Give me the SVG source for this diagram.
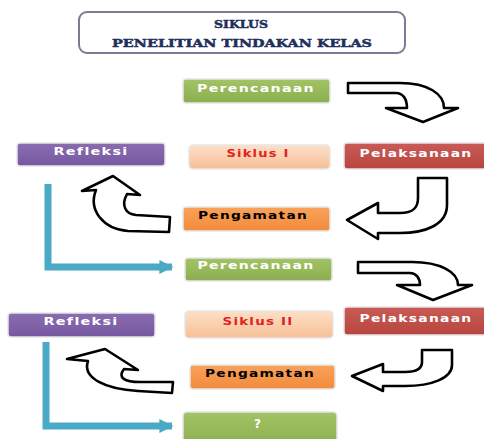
<svg xmlns="http://www.w3.org/2000/svg" width="484" height="439" viewBox="0 0 484 439">
<defs>
<linearGradient id="gGreen" x1="0" y1="0" x2="0" y2="1"><stop offset="0" stop-color="#a3c466"/><stop offset="1" stop-color="#8aae4f"/></linearGradient>
<linearGradient id="gPurple" x1="0" y1="0" x2="0" y2="1"><stop offset="0" stop-color="#8a6db0"/><stop offset="1" stop-color="#7558a0"/></linearGradient>
<linearGradient id="gPeach" x1="0" y1="0" x2="0" y2="1"><stop offset="0" stop-color="#fde0c8"/><stop offset="1" stop-color="#f6bf96"/></linearGradient>
<linearGradient id="gRed" x1="0" y1="0" x2="0" y2="1"><stop offset="0" stop-color="#c95a56"/><stop offset="1" stop-color="#b8463f"/></linearGradient>
<linearGradient id="gOrange" x1="0" y1="0" x2="0" y2="1"><stop offset="0" stop-color="#f9a25a"/><stop offset="1" stop-color="#f28b3c"/></linearGradient>
<marker id="blueArrow" viewBox="0 0 10 10" refX="9" refY="5" markerWidth="2.6" markerHeight="2" orient="auto" markerUnits="strokeWidth"><path d="M0,0 L10,5 L0,10 Z" fill="#4aaac5"/></marker>
</defs>
<style>
.box{stroke:#e6e6e6;stroke-width:1.5}
.lbl{font-family:"DejaVu Sans","Liberation Sans",sans-serif;font-weight:bold;font-size:11px;letter-spacing:1px;text-anchor:middle;fill:#ffffff}
.ttl{font-family:"DejaVu Serif","Liberation Serif",serif;font-weight:bold;font-size:11.5px;text-anchor:middle;fill:#1f2f5c;stroke:#1f2f5c;stroke-width:0.5}
.bigarrow{fill:#ffffff;stroke:#000000;stroke-width:2.6;stroke-linejoin:round}
.blue{fill:none;stroke:#4aaac5;stroke-width:7}
</style>
<rect x="0" y="0" width="484" height="439" fill="#ffffff"/>

<g id="title">
<rect x="79" y="12" width="326" height="41" rx="8" fill="#ffffff" stroke="#7d7b93" stroke-width="2"/>
<text class="ttl" x="241" y="28" textLength="54" lengthAdjust="spacingAndGlyphs">SIKLUS</text>
<text class="ttl" x="242" y="47" textLength="260" lengthAdjust="spacingAndGlyphs">PENELITIAN TINDAKAN KELAS</text>
</g>

<g id="connectors">
<path class="bigarrow" d="M348,83 L400,83 C428,83 444,94 444,108 L458,108 L423,122 L386,108 L407,108 C407,99 403,93 396,93 L348,93 Z"/>
<path class="bigarrow" d="M418,178 L447,178 L447,205 C447,225 425,233 400,233 L378,233 L378,239 L347,220 L378,203 L378,213 L400,213 C414,213 418,207 418,198 Z"/>
<path class="bigarrow" d="M113,176 L140,195 L127,194 C121,205 125,214 136,215 L170,217 L169,232 L128,231 C103,229 88,210 96,190 L82,191 Z"/>
<path class="blue" d="M48,184 L48,267 L172,267" marker-end="url(#blueArrow)"/>
<path class="bigarrow" d="M358,262 L412,262 C440,262 458,272 458,285 L472,285 L433,300 L397,285 L420,285 C420,278 416,273 410,273 L358,273 Z"/>
<path class="bigarrow" d="M422,350 L452,350 L452,365 C452,378 432,386 405,386 L383,386 L383,391 L352,376 L383,364 L383,372 L405,372 C418,372 422,368 422,362 Z"/>
<path class="bigarrow" d="M105,349 L138,370 L124,369 C117,378 125,382 140,382 L173,382 L172,393 L138,391 C105,389 82,378 88,361 L67,359 Z"/>
<path class="blue" d="M46,342 L46,426 L172,426" marker-end="url(#blueArrow)"/>
</g>

<g id="perencanaan1">
<rect class="box" x="183" y="79" width="147" height="24" rx="3" fill="url(#gGreen)"/>
<text class="lbl" x="256" y="92" textLength="118" lengthAdjust="spacingAndGlyphs">Perencanaan</text>
</g>
<g id="refleksi1">
<rect class="box" x="17" y="143" width="148" height="23" rx="3" fill="url(#gPurple)"/>
<text class="lbl" x="91" y="155" textLength="75" lengthAdjust="spacingAndGlyphs">Refleksi</text>
</g>
<g id="siklus1">
<rect class="box" x="189" y="145" width="141" height="24" rx="4" fill="url(#gPeach)"/>
<text class="lbl" x="258" y="157" textLength="63" lengthAdjust="spacingAndGlyphs" style="fill:#e3221f">Siklus I</text>
</g>
<g id="pelaksanaan1">
<rect class="box" x="344" y="143" width="146" height="26" rx="3" fill="url(#gRed)"/>
<text class="lbl" x="416" y="157" textLength="113" lengthAdjust="spacingAndGlyphs">Pelaksanaan</text>
</g>
<g id="pengamatan1">
<rect class="box" x="183" y="207" width="147" height="24" rx="3" fill="url(#gOrange)"/>
<text class="lbl" x="253" y="219" textLength="110" lengthAdjust="spacingAndGlyphs" style="fill:#000000">Pengamatan</text>
</g>
<g id="perencanaan2">
<rect class="box" x="185" y="258" width="147" height="23" rx="3" fill="url(#gGreen)"/>
<text class="lbl" x="256" y="269" textLength="117" lengthAdjust="spacingAndGlyphs">Perencanaan</text>
</g>
<g id="refleksi2">
<rect class="box" x="8" y="313" width="147" height="24" rx="3" fill="url(#gPurple)"/>
<text class="lbl" x="81" y="325" textLength="75" lengthAdjust="spacingAndGlyphs">Refleksi</text>
</g>
<g id="siklus2">
<rect class="box" x="185" y="311" width="148" height="27" rx="4" fill="url(#gPeach)"/>
<text class="lbl" x="258" y="325" textLength="71" lengthAdjust="spacingAndGlyphs" style="fill:#e3221f">Siklus II</text>
</g>
<g id="pelaksanaan2">
<rect class="box" x="344" y="307" width="146" height="28" rx="3" fill="url(#gRed)"/>
<text class="lbl" x="416" y="322" textLength="113" lengthAdjust="spacingAndGlyphs">Pelaksanaan</text>
</g>
<g id="pengamatan2">
<rect class="box" x="190" y="365" width="145" height="24" rx="3" fill="url(#gOrange)"/>
<text class="lbl" x="260" y="377" textLength="110" lengthAdjust="spacingAndGlyphs" style="fill:#000000">Pengamatan</text>
</g>
<g id="question">
<rect class="box" x="183" y="412" width="154" height="34" rx="4" fill="url(#gGreen)"/>
<text class="lbl" x="258" y="428" style="font-size:12px">?</text>
</g>
</svg>
